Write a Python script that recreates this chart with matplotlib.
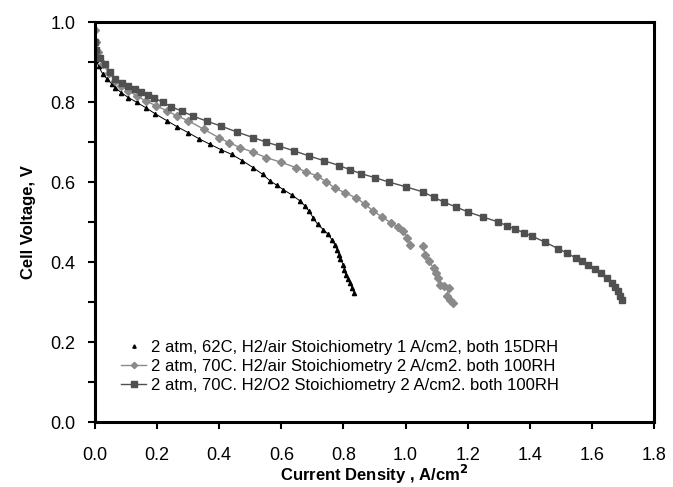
import matplotlib.pyplot as plt
import numpy as np
from matplotlib.lines import Line2D

plt.rcParams["font.family"] = ["Liberation Sans", "DejaVu Sans"]

# 2 atm, 62C, H2/air, 15 RH
tri_x = [0.0, 0.005, 0.012, 0.025, 0.04, 0.055, 0.066, 0.085, 0.108, 0.135, 0.163, 0.195, 0.232,
         0.265, 0.301, 0.335, 0.371, 0.405, 0.44, 0.475, 0.509, 0.54, 0.565, 0.585, 0.606, 0.635,
         0.661, 0.676, 0.689, 0.703, 0.717, 0.735, 0.751, 0.762, 0.772, 0.78, 0.786, 0.79, 0.8,
         0.803, 0.807, 0.815, 0.821, 0.828, 0.835]
tri_y = [0.93, 0.905, 0.89, 0.871, 0.858, 0.846, 0.837, 0.824, 0.812, 0.8, 0.787, 0.771, 0.754,
         0.739, 0.724, 0.709, 0.695, 0.682, 0.67, 0.654, 0.637, 0.62, 0.603, 0.593, 0.582, 0.568,
         0.553, 0.541, 0.528, 0.511, 0.495, 0.482, 0.47, 0.457, 0.444, 0.432, 0.419, 0.408, 0.394,
         0.381, 0.369, 0.358, 0.348, 0.336, 0.323]

# 2 atm, 70C, H2/air, 100 RH (gap near 1.03)
dia_x = [0.0, 0.003, 0.01, 0.025, 0.045, 0.066, 0.085, 0.108, 0.135, 0.163, 0.198, 0.232, 0.265,
         0.301, 0.35, 0.398, 0.432, 0.468, 0.51, 0.551, 0.6, 0.647, 0.68, 0.716, 0.745, 0.772,
         0.805, 0.841, 0.87, 0.896, 0.925, 0.952, 0.975, 0.993, 1.005, 1.014, np.nan,
         1.056, 1.063, 1.075, 1.09, 1.098, 1.104, 1.111, 1.125, 1.139, 1.132, 1.142, 1.153]
dia_y = [0.98, 0.95, 0.925, 0.896, 0.874, 0.854, 0.841, 0.829, 0.816, 0.804, 0.791, 0.779, 0.766,
         0.754, 0.733, 0.712, 0.699, 0.687, 0.675, 0.662, 0.65, 0.637, 0.626, 0.616, 0.601, 0.586,
         0.574, 0.561, 0.545, 0.528, 0.513, 0.499, 0.489, 0.478, 0.462, 0.444, np.nan,
         0.44, 0.419, 0.402, 0.386, 0.373, 0.361, 0.344, 0.34, 0.336, 0.315, 0.305, 0.297]

# 2 atm, 70C, H2/O2, 100 RH
sq_x = [0.0, 0.005, 0.015, 0.032, 0.05, 0.066, 0.087, 0.108, 0.129, 0.149, 0.17, 0.191, 0.218,
        0.246, 0.28, 0.315, 0.36, 0.405, 0.457, 0.509, 0.55, 0.592, 0.64, 0.689, 0.738, 0.786,
        0.82, 0.855, 0.9, 0.945, 1.0, 1.056, 1.09, 1.125, 1.163, 1.201, 1.25, 1.298, 1.325,
        1.353, 1.38, 1.408, 1.45, 1.491, 1.52, 1.547, 1.568, 1.588, 1.61, 1.63, 1.648, 1.664,
        1.675, 1.685, 1.691, 1.695]
sq_y = [0.95, 0.93, 0.912, 0.896, 0.876, 0.858, 0.849, 0.841, 0.833, 0.825, 0.818, 0.812, 0.8,
        0.789, 0.778, 0.766, 0.753, 0.741, 0.726, 0.712, 0.701, 0.691, 0.679, 0.666, 0.654, 0.642,
        0.632, 0.622, 0.612, 0.601, 0.589, 0.576, 0.563, 0.55, 0.538, 0.526, 0.513, 0.501, 0.492,
        0.483, 0.474, 0.465, 0.45, 0.434, 0.423, 0.411, 0.402, 0.394, 0.384, 0.373, 0.361, 0.348,
        0.338, 0.327, 0.316, 0.305]

labels = ["2 atm, 62C, H2/air Stoichiometry 1 A/cm2, both 15DRH",
          "2 atm, 70C. H2/air Stoichiometry 2 A/cm2. both 100RH",
          "2 atm, 70C. H2/O2 Stoichiometry 2 A/cm2. both 100RH"]

fig = plt.figure(figsize=(6.73, 4.87), dpi=100)
ax = fig.add_axes([0.141, 0.133, 0.831, 0.821])

ax.plot(tri_x, tri_y, color="black", lw=0.7, marker="^", ms=3)
l2, = ax.plot(dia_x, dia_y, color="#8a8a8a", lw=1.0, marker="D", ms=4)
l3, = ax.plot(sq_x, sq_y, color="#505050", lw=1.0, marker="s", ms=5)
# the first series shows only its marker in the legend
l1 = Line2D([], [], color="black", ls="none", marker="^", ms=3)

ax.set_xlim(0, 1.8)
ax.set_ylim(0, 1.0)
ax.set_xticks(np.arange(0, 1.81, 0.2))
ax.set_yticks(np.arange(0, 1.01, 0.2))
ax.set_yticks(np.arange(0.1, 1.0, 0.2), minor=True)
ax.set_xticklabels([f"{v:.1f}" for v in np.arange(0, 1.81, 0.2)])
ax.set_yticklabels([f"{v:.1f}" for v in np.arange(0, 1.01, 0.2)])
ax.tick_params(which="both", direction="out", width=1.5, length=5, labelsize=13)
ax.tick_params(axis="x", pad=13)
ax.tick_params(axis="y", pad=9)
for s in ax.spines.values():
    s.set_linewidth(2.2)

ax.set_xlabel("Current Density , A/cm$^{\\mathbf{2}}$", fontsize=12, fontweight="bold", labelpad=-1)
ax.set_ylabel("Cell Voltage, V", fontsize=12, fontweight="bold", labelpad=10)

ax.legend([l1, l2, l3], labels, loc="lower left", bbox_to_anchor=(0.02, 0.035), frameon=False,
          fontsize=12, handlelength=1.5, handletextpad=0.3, labelspacing=0.25, markerscale=0.8)

fig.savefig("out.png", dpi=100)
